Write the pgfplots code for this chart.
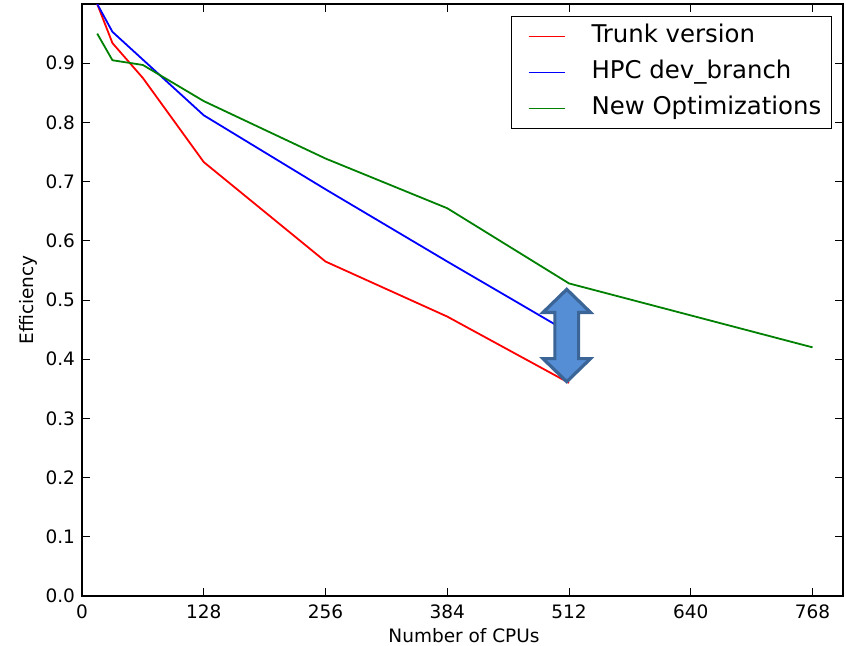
\documentclass[border=0pt]{standalone}
\usepackage{fontspec}
\setmainfont{DejaVu Sans}
\usepackage{pgfplots}
\pgfplotsset{compat=1.18}
\definecolor{mplgreen}{rgb}{0,0.5,0}
\definecolor{arrowfill}{HTML}{558ED5}
\definecolor{arrowedge}{HTML}{3C6597}

\begin{document}
\begin{tikzpicture}
\begin{axis}[scale only axis,width=380.5pt,height=296pt,
  xmin=0,xmax=800,ymin=0,ymax=1,
  xtick={0,128,256,384,512,640,768},ytick={0,0.1,...,0.91},
  font=\fontsize{9.25}{11}\selectfont,
  /pgf/number format/assume math mode=true,
  yticklabel style={/pgf/number format/.cd,fixed,fixed zerofill,precision=1},
  xticklabel style={yshift=-1pt},
  tick align=inside,major tick length=4pt,tick style={black,line width=0.5pt},
  axis line style={black,line width=0.6pt},
  xlabel={Number of CPUs},ylabel={Efficiency},
  xlabel style={at={(axis description cs:0.502,-0.0676)},anchor=center},
  ylabel style={at={(axis description cs:-0.071,0.5)},anchor=center},
  legend cell align=left,
  legend image code/.code={\path (0pt,0pt); \draw[#1] (3pt,0pt) -- (21pt,0pt);},
  legend style={at={(axis description cs:0.9855,0.98)},anchor=north east,
    draw=black,line width=0.6pt,font=\fontsize{12.2}{14}\selectfont,
    inner xsep=5pt,inner ysep=4pt,row sep=6pt,column sep=13pt,
    nodes={inner sep=0pt,text height=9pt,text depth=3pt}}]
\addplot[red,line width=0.9pt] coordinates {(16,1.0)(32,0.934)(64,0.875)(128,0.733)(256,0.565)(384,0.472)(512,0.360)};
\addplot[blue,line width=0.9pt] coordinates {(16,1.0)(32,0.953)(64,0.906)(128,0.812)(256,0.687)(384,0.565)(512,0.445)};
\addplot[mplgreen,line width=0.9pt] coordinates {(16,0.950)(32,0.905)(64,0.897)(128,0.836)(256,0.739)(384,0.655)(512,0.528)(768,0.420)};
\legend{Trunk version,HPC dev\_branch,New Optimizations}
% double-headed arrow marking the gap at 512 CPUs
\draw[fill=arrowfill,draw=arrowedge,line width=1.6pt,line join=miter]
  (axis cs:509.6,0.518) -- (axis cs:534.6,0.479) -- (axis cs:522.1,0.479)
  -- (axis cs:522.1,0.401) -- (axis cs:534.6,0.401) -- (axis cs:509.6,0.362)
  -- (axis cs:484.6,0.401) -- (axis cs:497.1,0.401) -- (axis cs:497.1,0.479)
  -- (axis cs:484.6,0.479) -- cycle;
\end{axis}
\pgfresetboundingbox
\path[use as bounding box] (-41pt,-24.5pt) rectangle (382pt,298pt);
\end{tikzpicture}
\end{document}
